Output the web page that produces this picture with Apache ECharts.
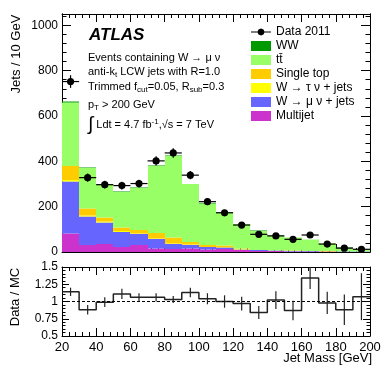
<!DOCTYPE html>
<html>
<head>
<meta charset="utf-8">
<script src="https://cdn.jsdelivr.net/npm/echarts@6/dist/echarts.min.js"></script>
<style>
  html, body { margin: 0; padding: 0; background: #fff; }
  #chart { width: 390px; height: 375px; }
</style>
</head>
<body>
<div id="chart"></div>
<script>
// bins of 10 GeV, jet mass 20-200 GeV
const binCenters = [25, 35, 45, 55, 65, 75, 85, 95, 105, 115, 125, 135, 145, 155, 165, 175, 185, 195];
const binWidth = 10;

// data 2011
const dataCounts = [752, 328, 297, 293, 302, 402, 437, 339, 222, 173, 119, 78, 71, 56, 75, 35, 17, 12];
const dataErrors = [28, 18, 17, 17, 17, 20, 21, 18, 15, 13, 11, 9, 8, 7, 9, 6, 4, 3];

// MC stack, bottom to top
const multijet = [82, 31, 35, 21, 31, 15, 13, 16, 12, 14, 8, 5, 4, 3, 3, 2, 1, 1];
const wmunu = [228, 125, 96, 68, 48, 42, 22, 15, 9, 5, 4, 3, 2, 2, 1, 1, 1, 0.5];
const wtaunu = [8, 5, 4, 3, 3, 2, 2, 1, 1, 1, 1, 0.5, 0.5, 0.5, 0.3, 0.3, 0.2, 0.2];
const singleTop = [62, 32, 18, 15, 15, 25, 28, 13, 8, 8, 3, 1, 1, 1, 1, 0.5, 0.5, 0.3];
const ttbar = [280, 177, 144, 157, 186, 295, 358, 254, 184, 146, 107, 84, 64, 57, 50, 33, 16, 9];
const ww = [5, 3, 3, 2, 2, 2, 2, 2, 1.5, 1.5, 1, 1, 1, 1, 0.5, 0.5, 0.3, 0.3];

// Data / MC
const ratio = [1.14, 0.88, 0.99, 1.11, 1.06, 1.06, 1.03, 1.13, 1.04, 1.0, 0.97, 0.84, 1.02, 0.87, 1.34, 0.98, 0.88, 1.07];
const ratioErrors = [0.06, 0.07, 0.07, 0.075, 0.06, 0.06, 0.05, 0.07, 0.08, 0.09, 0.1, 0.095, 0.13, 0.14, 0.16, 0.16, 0.22, 0.34];

const FONT = "'Liberation Sans', Arial, Helvetica, sans-serif";

const stack = [
  { name: 'Multijet', values: multijet, color: '#cc33cc' },
  { name: 'W \u2192 \u03bc \u03bd + jets', values: wmunu, color: '#6666ff' },
  { name: 'W \u2192 \u03c4 \u03bd + jets', values: wtaunu, color: '#ffff00' },
  { name: 'Single top', values: singleTop, color: '#ffcc00' },
  { name: 'tt\u0304', values: ttbar, color: '#99ff66' },
  { name: 'WW', values: ww, color: '#009900' }
];

const chart = echarts.init(document.getElementById('chart'));

// cumulative stack
const base = binCenters.map(() => 0);
const stackSeries = stack.map((s) => {
  const rows = binCenters.map((c, i) => {
    const lo = base[i];
    base[i] += s.values[i];
    return [c - binWidth / 2, c + binWidth / 2, lo, base[i]];
  });
  return {
    type: 'custom',
    name: s.name,
    xAxisIndex: 0,
    yAxisIndex: 0,
    itemStyle: { color: s.color },
    data: rows,
    silent: true,
    renderItem: (params, api) => {
      const a = api.coord([api.value(0), api.value(3)]);
      const b = api.coord([api.value(1), api.value(2)]);
      const x0 = Math.round(a[0]), x1 = Math.round(b[0]);
      const y0 = Math.round(a[1] * 2) / 2, y1 = Math.round(b[1] * 2) / 2;
      return {
        type: 'rect',
        shape: { x: x0, y: y0, width: x1 - x0, height: y1 - y0 },
        style: { fill: s.color }
      };
    },
    z: 2
  };
});

const dataSeries = {
  type: 'custom',
  name: 'Data 2011',
  xAxisIndex: 0,
  yAxisIndex: 0,
  itemStyle: { color: '#000' },
  data: binCenters.map((c, i) => [c, dataCounts[i], dataErrors[i]]),
  renderItem: (params, api) => {
    const x = api.value(0), y = api.value(1), e = api.value(2);
    const p = api.coord([x, y]);
    const l = api.coord([x - binWidth / 2, y]);
    const r = api.coord([x + binWidth / 2, y]);
    const t = api.coord([x, y + e]);
    const b = api.coord([x, y - e]);
    return {
      type: 'group',
      children: [
        { type: 'line', shape: { x1: l[0], y1: p[1], x2: r[0], y2: p[1] }, style: { stroke: '#000', lineWidth: 1.2 } },
        { type: 'line', shape: { x1: p[0], y1: t[1], x2: p[0], y2: b[1] }, style: { stroke: '#000', lineWidth: 1.2 } },
        { type: 'circle', shape: { cx: p[0], cy: p[1], r: 3.6 }, style: { fill: '#000' } }
      ]
    };
  },
  z: 5
};

const ratioStep = {
  type: 'line',
  xAxisIndex: 2,
  yAxisIndex: 4,
  step: 'end',
  symbol: 'none',
  lineStyle: { color: '#222', width: 1.5 },
  data: binCenters.map((c, i) => [c - binWidth / 2, ratio[i]])
    .concat([[binCenters[binCenters.length - 1] + binWidth / 2, ratio[ratio.length - 1]]]),
  markLine: {
    silent: true,
    symbol: 'none',
    label: { show: false },
    lineStyle: { color: '#000', width: 1, type: [3, 2] },
    data: [{ yAxis: 1 }]
  },
  z: 4
};

const ratioErr = {
  type: 'custom',
  xAxisIndex: 2,
  yAxisIndex: 4,
  clip: true,
  data: binCenters.map((c, i) => [c, ratio[i], ratioErrors[i]]),
  renderItem: (params, api) => {
    const x = api.value(0), y = api.value(1), e = api.value(2);
    const t = api.coord([x, y + e]);
    const b = api.coord([x, y - e]);
    return {
      type: 'line',
      shape: { x1: t[0], y1: t[1], x2: b[0], y2: b[1] },
      style: { stroke: '#222', lineWidth: 1.2 }
    };
  },
  z: 5
};

const axisLine = { show: true, onZero: false, lineStyle: { color: '#000', width: 1 } };

function xAxisFor(grid, position, labels, major, minor) {
  return {
    type: 'value', gridIndex: grid, position: position,
    min: 20, max: 200, interval: 20,
    axisLine: axisLine,
    axisTick: { show: true, inside: true, length: major, lineStyle: { color: '#000' } },
    minorTick: { show: true, splitNumber: 5, length: minor, lineStyle: { color: '#000' } },
    splitLine: { show: false },
    axisLabel: { show: labels, color: '#000', fontSize: 13, fontFamily: FONT, margin: 5 }
  };
}

function mainY(position, interval, tickLen, labels) {
  return {
    type: 'value', gridIndex: 0, position: position,
    min: 0, max: 1050, interval: interval,
    axisLine: axisLine,
    axisTick: { show: true, inside: true, length: tickLen, lineStyle: { color: '#000' } },
    splitLine: { show: false },
    axisLabel: {
      show: labels, color: '#000', fontSize: 12, fontFamily: FONT, margin: 4,
      formatter: (v) => (v % 200 === 0 ? String(v) : '')
    }
  };
}

function ratioY(position, labels) {
  return {
    type: 'value', gridIndex: 1, position: position,
    min: 0.5, max: 1.5, interval: 0.25,
    axisLine: axisLine,
    axisTick: { show: true, inside: true, length: 7, lineStyle: { color: '#000' } },
    minorTick: { show: true, splitNumber: 5, length: 3.5, lineStyle: { color: '#000' } },
    splitLine: { show: false },
    axisLabel: { show: labels, color: '#000', fontSize: 12, fontFamily: FONT, margin: 4 }
  };
}

const textBase = { fill: '#000', fontFamily: FONT, fontSize: 11 };
const rich = {
  n: { fontSize: 11, fontFamily: FONT, lineHeight: 14 },
  s: { fontSize: 8, fontFamily: FONT, lineHeight: 14, padding: [6, 0, 0, 0] },
  p: { fontSize: 8, fontFamily: FONT, lineHeight: 14, padding: [0, 0, 6, 0] },
  i: { fontSize: 19, fontFamily: FONT, lineHeight: 14 }
};

function label(x, y, text) {
  return {
    type: 'text', x: x, y: y,
    style: Object.assign({}, textBase, { text: text, rich: rich, verticalAlign: 'middle' })
  };
}

const option = {
  animation: false,
  backgroundColor: '#fff',
  textStyle: { fontFamily: FONT },
  grid: [
    { left: 62, top: 14, width: 308, height: 238 },
    { left: 62, top: 267, width: 308, height: 69 }
  ],
  xAxis: [
    xAxisFor(0, 'bottom', false, 8, 4),
    xAxisFor(0, 'top', false, 8, 4),
    xAxisFor(1, 'bottom', true, 8, 4),
    xAxisFor(1, 'top', false, 8, 4)
  ],
  yAxis: [
    mainY('left', 200, 9, true),
    mainY('left', 40, 4.5, false),
    mainY('right', 200, 9, false),
    mainY('right', 40, 4.5, false),
    ratioY('left', true),
    ratioY('right', false)
  ],
  legend: {
    orient: 'vertical',
    left: 251,
    top: 26,
    padding: 0,
    itemWidth: 20,
    itemHeight: 10,
    itemGap: 2,
    icon: 'rect',
    selectedMode: false,
    textStyle: { color: '#000', fontSize: 12, fontFamily: FONT },
    data: [
      {
        name: 'Data 2011',
        icon: 'path://M0,3 L20,3 L20,4.2 L0,4.2 Z M10,0 L12.5,1.05 L13.6,3.6 L12.5,6.15 L10,7.2 L7.5,6.15 L6.4,3.6 L7.5,1.05 Z',
        itemStyle: { color: '#000', borderColor: '#000', borderWidth: 0 }
      },
      'WW', 'tt\u0304', 'Single top', 'W \u2192 \u03c4 \u03bd + jets', 'W \u2192 \u03bc \u03bd + jets', 'Multijet'
    ]
  },
  graphic: {
    elements: [
      { type: 'text', x: 89, y: 35, style: { text: 'ATLAS', fill: '#000', fontFamily: FONT, fontSize: 17, fontWeight: 'bold', fontStyle: 'italic', verticalAlign: 'middle' } },
      label(88, 58, '{n|Events containing W \u2192 \u03bc \u03bd}'),
      label(88, 72, '{n|anti-k}{s|t}{n| LCW jets with R=1.0}'),
      label(88, 87, '{n|Trimmed f}{s|cut}{n|=0.05, R}{s|sub}{n|=0.3}'),
      label(88, 105, '{n|p}{s|T}{n| > 200 GeV}'),
      label(88, 125, '{i|\u222b}{n| Ldt = 4.7 fb}{p|-1}{n|,\u221as = 7 TeV}'),
      { type: 'text', x: 16, y: 54, rotation: Math.PI / 2, style: { text: 'Jets / 10 GeV', fill: '#000', fontFamily: FONT, fontSize: 13, align: 'center', verticalAlign: 'middle' } },
      { type: 'text', x: 15, y: 297, rotation: Math.PI / 2, style: { text: 'Data / MC', fill: '#000', fontFamily: FONT, fontSize: 13, align: 'center', verticalAlign: 'middle' } },
      { type: 'text', x: 372, y: 358, style: { text: 'Jet Mass [GeV]', fill: '#000', fontFamily: FONT, fontSize: 13, align: 'right', verticalAlign: 'middle' } }
    ]
  },
  series: stackSeries.concat([dataSeries, ratioStep, ratioErr])
};

chart.setOption(option);
window.addEventListener('resize', () => chart.resize());
</script>
</body>
</html>
